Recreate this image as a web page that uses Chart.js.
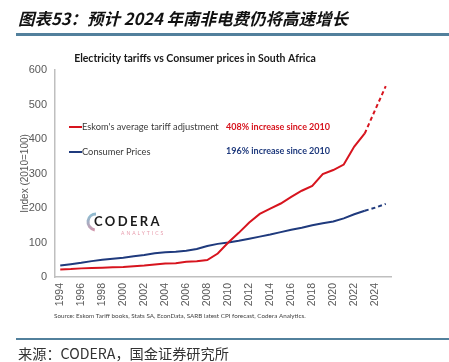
<!DOCTYPE html>
<html>
<head>
<meta charset="utf-8">
<script src="https://cdn.jsdelivr.net/npm/chart.js@4"></script>
<style>
  html, body { margin: 0; padding: 0; background: #fff; }
  #wrap { width: 449px; height: 362px; position: relative; }
</style>
</head>
<body>
<div id="wrap"><canvas id="tariffChart" width="449" height="362"></canvas></div>
<script>
// data (index, 2010 = 100)
const years = [];
for (let y = 1994; y <= 2025; y++) years.push(String(y));

const eskomTariff = [22, 23, 25, 26, 27, 28, 29, 31, 33, 36, 39, 40, 44, 46, 49, 68,
    100, 128, 158, 183, 198, 213, 232, 250, 264, 298, 310, 326, 378, 416, 485, 553];
const consumerPrices = [33, 37, 41, 46, 50, 53, 56, 60, 64, 69, 72, 73, 76, 81, 90, 96,
    100, 105, 111, 117, 123, 130, 137, 143, 150, 156, 161, 170, 182, 192, 201, 212];

const yTicks = [0, 100, 200, 300, 400, 500, 600];
const forecastFrom = years.indexOf('2023');

const RED = '#d7141e';
const NAVY = '#1f3a7d';

const dashAfter = ctx => ctx.p0DataIndex >= forecastFrom ? [4, 3] : undefined;

// header, legend, annotations and footer drawn straight onto the canvas
const decorations = {
    id: 'decorations',
    afterDraw(chart) {
        const c = chart.ctx;
        c.save();

        // report header
        c.fillStyle = '#111';
        c.font = 'italic bold 16.5px "Noto Sans CJK SC"';
        c.textBaseline = 'middle';
        c.fillText('图表53：预计 2024 年南非电费仍将高速增长', 18, 19);
        c.fillStyle = '#52809c';
        c.fillRect(16, 33, 433, 3);

        // chart title
        c.fillStyle = '#1a1a1a';
        c.font = 'bold 10.5px Lato';
        c.textAlign = 'center';
        c.fillText('Electricity tariffs vs Consumer prices in South Africa', 195, 59);

        // legend
        c.textAlign = 'left';
        c.font = '9.3px Lato';
        c.lineWidth = 2;
        const legend = [
            { label: "Eskom's average tariff adjustment", color: RED, y: 127, note: '408% increase since 2010' },
            { label: 'Consumer Prices', color: NAVY, y: 152, note: '196% increase since 2010' }
        ];
        legend.forEach(item => {
            c.strokeStyle = item.color;
            c.beginPath();
            c.moveTo(69, item.y);
            c.lineTo(82, item.y);
            c.stroke();
            c.fillStyle = '#3a3a3a';
            c.fillText(item.label, 82, item.y);
        });
        c.font = 'bold 9px Lato';
        c.textAlign = 'right';
        c.fillStyle = RED;
        c.fillText(legend[0].note, 330, 127);
        c.fillStyle = NAVY;
        c.fillText(legend[1].note, 330, 151);

        // codera logo
        c.textAlign = 'left';
        const grad = c.createLinearGradient(88, 212, 98, 234);
        grad.addColorStop(0, '#7fc4d8');
        grad.addColorStop(1, '#e58aa0');
        c.strokeStyle = grad;
        c.lineWidth = 3;
        c.beginPath();
        c.arc(96, 222, 8, Math.PI * 0.55, Math.PI * 1.5);
        c.stroke();
        c.fillStyle = '#1b1b1b';
        c.font = 'bold 13px Lato';
        if ('letterSpacing' in c) c.letterSpacing = '2.4px';
        c.fillText('CODERA', 94, 222);
        c.fillStyle = '#e79aab';
        c.font = '5px Lato';
        if ('letterSpacing' in c) c.letterSpacing = '2px';
        c.fillText('ANALYTICS', 121, 233);
        if ('letterSpacing' in c) c.letterSpacing = '0px';

        // source line
        c.fillStyle = '#444';
        c.font = '6.3px Lato';
        c.fillText('Source: Eskom Tariff books, Stats SA, EconData, SARB latest CPI forecast, Codera Analytics.', 54, 316);

        // footer
        c.fillStyle = '#52809c';
        c.fillRect(16, 338, 433, 2);
        c.fillStyle = '#333';
        c.font = '14.2px "Noto Sans CJK SC"';
        c.fillText('来源：CODERA，国金证券研究所', 18, 354);

        c.restore();
    }
};

new Chart(document.getElementById('tariffChart'), {
    type: 'line',
    data: {
        labels: years,
        datasets: [
            {
                label: "Eskom's average tariff adjustment",
                data: eskomTariff,
                borderColor: RED,
                borderWidth: 2,
                pointRadius: 0,
                tension: 0,
                segment: { borderDash: dashAfter }
            },
            {
                label: 'Consumer Prices',
                data: consumerPrices,
                borderColor: NAVY,
                borderWidth: 2,
                pointRadius: 0,
                tension: 0,
                segment: { borderDash: dashAfter }
            }
        ]
    },
    options: {
        responsive: false,
        animation: false,
        layout: { padding: { left: 0, top: 70, right: 58, bottom: 45 } },
        plugins: {
            legend: { display: false },
            tooltip: { enabled: false }
        },
        scales: {
            x: {
                offset: true,
                grid: { display: false, drawTicks: false },
                border: { color: '#bfbfbf', width: 1.5 },
                ticks: {
                    autoSkip: false,
                    minRotation: 90,
                    maxRotation: 90,
                    padding: 6,
                    color: '#595959',
                    font: { family: 'Liberation Sans', size: 10.5 },
                    callback: (v, i) => i % 2 === 0 ? years[i] : ''
                },
                afterFit: scale => { scale.height = 40; }
            },
            y: {
                min: 0,
                max: 600,
                grid: { display: false, drawTicks: false },
                border: { color: '#bfbfbf', width: 1.5 },
                afterBuildTicks: scale => { scale.ticks = yTicks.map(v => ({ value: v })); },
                ticks: {
                    padding: 8,
                    color: '#595959',
                    font: { family: 'Liberation Sans', size: 11 }
                },
                title: {
                    display: true,
                    text: 'Index (2010=100)',
                    color: '#595959',
                    font: { family: 'Liberation Sans', size: 10 },
                    padding: { top: 19, bottom: 0 }
                },
                afterFit: scale => { scale.width = 55; }
            }
        }
    },
    plugins: [decorations]
});
</script>
</body>
</html>
